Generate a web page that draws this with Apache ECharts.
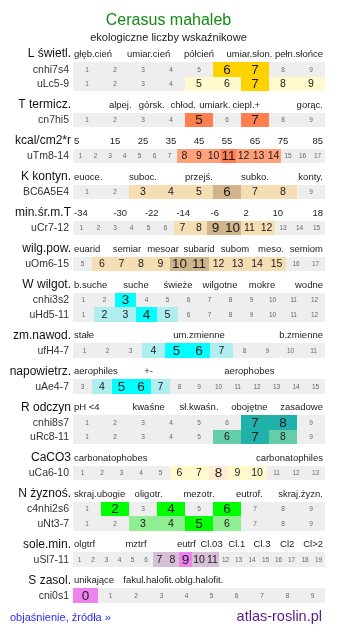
<!DOCTYPE html>
<html><head><meta charset="utf-8">
<script src="https://cdn.jsdelivr.net/npm/echarts@6/dist/echarts.min.js"></script>
<style>html,body{margin:0;padding:0;background:#fff}#c{width:337px;height:634px}</style>
</head><body><div id="c"></div>
<script>
// ---------- data ----------
const titleText = "Cerasus mahaleb";
const subtitleText = "ekologiczne liczby wskaźnikowe";
const footerLeft = "objaśnienie, źródła »";
const footerRight = "atlas-roslin.pl";

const headerNames = ["L świetl.","T termicz.","kcal/cm2*r","K kontyn.","min.śr.m.T","wilg.pow.","W wilgot.","zm.nawod.","napowietrz.","R odczyn","CaCO3","N żyznoś.","sole.min.","S zasol."];
const headerScales = [
  ["głęb.cień","umiar.cień","półcień","umiar.słon.","pełn.słońce"],
  ["","alpej.","górsk.","chłod.","umiark.","ciepl.+","","gorąc."],
  ["5","15","25","35","45","55","65","75","85"],
  ["euoce.","","suboc.","","przejś.","","subko.","","konty."],
  ["-34","-30","-22","-14","-6","2","10","18"],
  ["euarid","semiar","mesoar","subarid","subom","meso.","semiom"],
  ["b.suche","suche","świeże","wilgotne","mokre","wodne"],
  ["stałe","um.zmienne","b.zmienne"],
  ["aerophiles","+-","","aerophobes",""],
  ["pH <4","kwaśne","sł.kwaśn.","obojętne","zasadowe"],
  ["carbonatophobes","carbonatophiles"],
  ["skraj.ubogie","oligotr.","mezotr.","eutrof.","skraj.żyzn."],
  ["olgtrf","","mztrf","","eutrf","Cl.03","Cl.1","Cl.3","Cl2","Cl>2"],
  ["unikające","fakul.halofit.","oblg.halofit.","",""]
];

const rowNames  = ["cnhi7s4","uLc5-9","cn7hi5","uTm8-14","BC6A5E4","uCr7-12","uOm6-15","cnhi3s2","uHd5-11","ufH4-7","uAe4-7","cnhi8s7","uRc8-11","uCa6-10","c4nhi2s6","uNt3-7","uSl7-11","cni0s1"];
const rowGroup  = [0,0,1,2,3,4,5,6,6,7,8,9,9,10,11,11,12,13];
const rowFirst  = [1,1,1,1,1,1,5,1,1,1,3,1,1,1,1,1,1,0];
const rowLast   = [9,9,9,17,9,15,17,12,12,11,15,9,9,13,9,9,19,9];
const rowPeak   = [[6,7],[7],[5,7],[11],[6],[9,10],[10,11],[3],[4],[5,6],[5,6],[7,8],[7],[8],[2,4,6],[5],[9],[0]];
const rowSecond = [[],[5,6,8,9],[],[8,9,10,12,13,14],[3,4,5,7,8],[7,8,11,12],[6,7,8,9,12,13,14,15],[],[2,3,5],[4,7],[4,7],[],[6,8],[6,7,9,10],[],[3,4,6],[7,8,10,11],[]];

// ---------- styles ----------
const groupColors = [
  ["#FFFACD","#FFD200"],["#FFA07A","#FF7F50"],["#FFA07A","#FF7F50"],
  ["#F5DEB3","#D2B48C"],["#F5DEB3","#D2B48C"],["#F5DEB3","#D2B48C"],
  ["#AFEEEE","#00FFFF"],["#AFEEEE","#00FFFF"],["#AFEEEE","#00FFFF"],
  ["#66CDAA","#20B2AA"],["#FFFACD","#FFEBD2"],["#90EE90","#00FF00"],
  ["#D8BFD8","#EE82EE"],["#D8BFD8","#EE82EE"]
];
const FONT = "'Liberation Sans', Arial, sans-serif";
const GRAY = "#EEEEEE";

// ---------- layout (vertical, px units on y axis) ----------
const FIRST_HEADER = 54, HEAD_TO_ROW = 15, ROW_STEP = 14.5, ROW_TO_HEAD = 21, ROW_H = 14.5;
const headerY = [], rowY = [];
let yy = FIRST_HEADER;
for (let g = 0; g < headerNames.length; g++) {
  headerY[g] = yy;
  let r0 = yy + HEAD_TO_ROW + (g === 0 ? 0.5 : 0), last = r0;
  rowNames.forEach((n, r) => { if (rowGroup[r] === g) { rowY[r] = r0; last = r0; r0 += ROW_STEP; } });
  yy = last + ROW_TO_HEAD;
}

// ---------- build series data ----------
const cellData = [];
rowNames.forEach((n, r) => {
  const cnt = rowLast[r] - rowFirst[r] + 1;
  for (let k = 0; k < cnt; k++) {
    const v = rowFirst[r] + k;
    const lvl = rowPeak[r].includes(v) ? 2 : (rowSecond[r].includes(v) ? 1 : 0);
    cellData.push([k / cnt, (k + 1) / cnt, rowY[r], v, lvl, r]);
  }
});
const rowLabelData = rowNames.map((n, r) => [0, rowY[r], r]);
const headerData = [];
headerNames.forEach((h, g) => {
  headerData.push([0, headerY[g], g, -1]);
  const s = headerScales[g], n = s.length;
  s.forEach((t, i) => { if (t) headerData.push([(i + 0.5) / n, headerY[g], g, i]); });
});

const chart = echarts.init(document.getElementById('c'), null, {renderer: 'canvas'});
chart.setOption({
  animation: false,
  title: [
    {text: titleText, left: 'center', top: 13, padding: 0, textStyle: {fontFamily: FONT, fontSize: 16, fontWeight: 'normal', color: '#138A13'}},
    {text: subtitleText, left: 'center', top: 32.5, padding: 0, textStyle: {fontFamily: FONT, fontSize: 11, fontWeight: 'normal', color: '#222'}},
    {text: footerLeft, left: 10, top: 612.5, padding: 0, textStyle: {fontFamily: FONT, fontSize: 11, fontWeight: 'normal', color: '#2B2BF0'}},
    {text: footerRight, right: 15, top: 609.5, padding: 0, textStyle: {fontFamily: FONT, fontSize: 14.5, fontWeight: 'normal', color: '#5F1A8A'}}
  ],
  grid: {left: 73, right: 12, top: 0, bottom: 0},
  xAxis: {type: 'value', min: 0, max: 1, show: false},
  yAxis: {type: 'value', min: 0, max: 634, inverse: true, show: false},
  series: [
    {
      type: 'custom', data: cellData, encode: {x: [0, 1], y: 2}, clip: false,
      renderItem: function (params, api) {
        const x0 = api.value(0), x1 = api.value(1), y = api.value(2);
        const v = api.value(3), lvl = api.value(4), r = api.value(5);
        const a = api.coord([x0, y - ROW_H / 2]);
        const b = api.coord([x1, y + ROW_H / 2]);
        const L = Math.round(a[0]), R = Math.round(b[0]);
        const T = Math.round(a[1]), B = Math.round(b[1]);
        const col = lvl === 0 ? GRAY : groupColors[rowGroup[r]][lvl - 1];
        const fs = lvl === 2 ? 13.5 : (lvl === 1 ? 10.5 : 6.5);
        return {
          type: 'group',
          children: [
            {type: 'rect', shape: {x: L, y: T, width: R - L, height: B - T}, style: {fill: col}},
            {type: 'text', style: {text: String(v), x: (L + R) / 2, y: (T + B) / 2 + 0.5,
              textAlign: 'center', textVerticalAlign: 'middle',
              font: fs + 'px ' + FONT, fill: lvl === 0 ? '#666' : '#1a1a1a'}}
          ]
        };
      }
    },
    {
      type: 'custom', data: rowLabelData, encode: {x: 0, y: 1}, clip: false,
      renderItem: function (params, api) {
        const p = api.coord([api.value(0), api.value(1)]);
        return {type: 'text', style: {text: rowNames[api.value(2)], x: p[0] - 4, y: p[1] + 0.5,
          textAlign: 'right', textVerticalAlign: 'middle', font: '10.5px ' + FONT, fill: '#333'}};
      }
    },
    {
      type: 'custom', data: headerData, encode: {x: 0, y: 1}, clip: false,
      renderItem: function (params, api) {
        const g = api.value(2), i = api.value(3);
        if (i < 0) {
          const p = api.coord([0, api.value(1)]);
          return {type: 'text', style: {text: headerNames[g], x: p[0] - 2, y: p[1],
            textAlign: 'right', textVerticalAlign: 'middle', font: '12px ' + FONT, fill: '#111'}};
        }
        const n = headerScales[g].length;
        let x = api.value(0), align = 'center';
        if (i === 0) { x = 0; align = 'left'; }
        else if (i === n - 1) { x = 1; align = 'right'; }
        const p = api.coord([x, api.value(1)]);
        return {type: 'text', style: {text: headerScales[g][i], x: p[0] + (align === 'left' ? 1 : (align === 'right' ? -2 : 0)), y: p[1],
          textAlign: align, textVerticalAlign: 'middle', font: '9.5px ' + FONT, fill: '#222'}};
      }
    }
  ]
});
</script></body></html>
